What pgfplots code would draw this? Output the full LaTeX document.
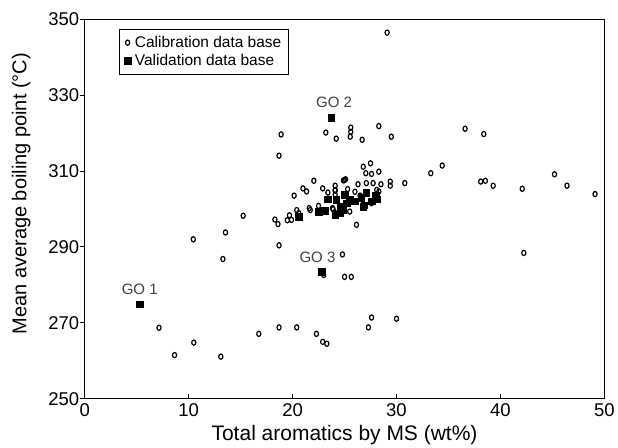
\documentclass[border=0pt]{standalone}
\usepackage{pgfplots}
\pgfplotsset{compat=1.18}
\usepackage{fontspec}
\setmainfont{Liberation Sans}
\begin{document}
\begin{tikzpicture}
\begin{axis}[
  name=ax,
  scale only axis, width=520pt, height=380pt,
  xmin=0, xmax=50, ymin=250, ymax=350,
  xtick={0,10,20,30,40,50}, ytick={250,270,290,310,330,350},
  tick align=inside,
  xtick pos=bottom, ytick pos=left,
  every x tick/.style={black, line width=0.8pt},
  every y tick/.style={black, line width=0.8pt, xshift=-5pt},
  major tick length=5pt,
  axis line style={line width=0.9pt},
  tick label style={font=\fontsize{18.5}{20}\selectfont},
  xticklabel style={yshift=-1pt},
  yticklabel style={xshift=-2pt},
  /pgf/number format/assume math mode=true,
  label style={font=\fontsize{20}{22}\selectfont, inner sep=0pt},
  xlabel={Total aromatics by MS (wt\%)},
  ylabel={Mean average boiling point (°C)},
  xlabel style={at={(axis description cs:0.5,-0.095)}, anchor=center, font=\fontsize{21}{23}\selectfont},
  ylabel style={at={(axis description cs:-0.122,0.54)}, anchor=center},
  legend style={at={(0.066,0.974)}, anchor=north west, draw=black, line width=0.8pt,
    font=\fontsize{15.5}{18}\selectfont, inner xsep=5pt, inner ysep=5pt, row sep=1.5pt, column sep=2pt,
    legend cell align=left},
  legend image code/.code={\draw[#1] plot coordinates {(0.12cm,0cm)};},
]
\addplot[only marks, mark=o, mark size=2.6pt, line width=1.2pt, mark options={xscale=0.8}] coordinates {
(7.15,268.7)(8.65,261.5)(10.5,264.8)(13.1,261.1)(10.45,292.0)(13.55,293.8)(13.3,286.8)
(15.25,298.2)(16.75,267.1)(18.7,268.8)(20.4,268.8)(22.3,267.1)(22.9,265.0)(23.3,264.5)
(23.0,282.6)(24.8,288.0)(25.0,282.1)(25.65,282.1)(27.6,271.4)(27.3,268.8)(30.0,271.1)
(42.25,288.4)(18.7,290.4)(26.15,295.8)
(29.1,346.4)(18.9,319.6)(18.7,314.0)(23.2,320.1)(24.2,318.5)(25.6,321.4)(25.6,320.3)
(25.55,319.0)(28.3,321.8)(26.7,318.2)(29.5,319.0)(36.6,321.1)(38.4,319.7)
(34.4,311.4)(33.3,309.4)(45.2,309.1)(46.4,306.1)(49.1,303.9)(42.1,305.3)(38.1,307.2)
(38.55,307.4)(39.3,306.1)(30.8,306.8)(29.4,307.2)(29.4,306.1)
(27.5,312.0)(26.8,311.1)(27.05,309.4)(27.6,309.2)(28.3,309.8)(27.1,306.8)(27.75,306.8)
(28.5,306.5)(26.3,306.5)(24.9,307.5)(25.1,307.8)(24.1,306.1)(24.1,305.0)(28.3,304.6)
(28.1,305.0)(27.75,301.9)(27.6,301.5)(23.85,300.2)(24.1,298.9)(24.9,300.6)(25.5,299.3)
(24.1,303.7)(18.3,297.2)(18.6,296.0)(19.5,297.0)(19.9,297.1)(19.7,298.3)(20.15,303.5)
(20.4,299.7)(20.6,298.9)(21.0,305.4)(21.35,304.6)(22.05,307.4)(21.6,300.2)(21.7,299.7)
(22.5,300.8)(22.9,305.4)(23.4,304.3)(24.1,304.8)(25.0,307.6)(23.9,299.9)(26.0,304.5)
(26.5,303.5)(25.3,305.2)
};
\addlegendentry{Calibration data base}
\addplot[only marks, mark=square*, mark size=3.3pt, black] coordinates {
(5.3,274.9)(23.7,324.0)(22.8,283.5)
(20.6,298.0)(22.5,299.3)(23.1,299.6)(23.4,302.6)(24.2,302.4)(24.6,298.9)(25.0,303.7)
(24.1,298.4)(24.6,300.5)(25.2,301.5)(25.5,302.5)(24.8,299.8)(26.0,302.0)(26.6,303.0)
(26.9,301.0)(27.1,304.2)(27.6,302.0)(28.0,303.5)(28.1,302.5)(26.8,300.5)
};
\addlegendentry{Validation data base}
\node[font=\fontsize{15}{18}\selectfont, text=black!75, above] at (axis cs:5.3,276.5) {GO 1};
\node[font=\fontsize{15}{18}\selectfont, text=black!75, above] at (axis cs:24.0,325.6) {GO 2};
\node[font=\fontsize{15}{18}\selectfont, text=black!75, above] at (axis cs:22.4,285.0) {GO 3};
\end{axis}
\path (ax.south west) ++(-84.7pt,-49pt);
\path (ax.north east) ++(13.3pt,19pt);
\end{tikzpicture}
\end{document}
